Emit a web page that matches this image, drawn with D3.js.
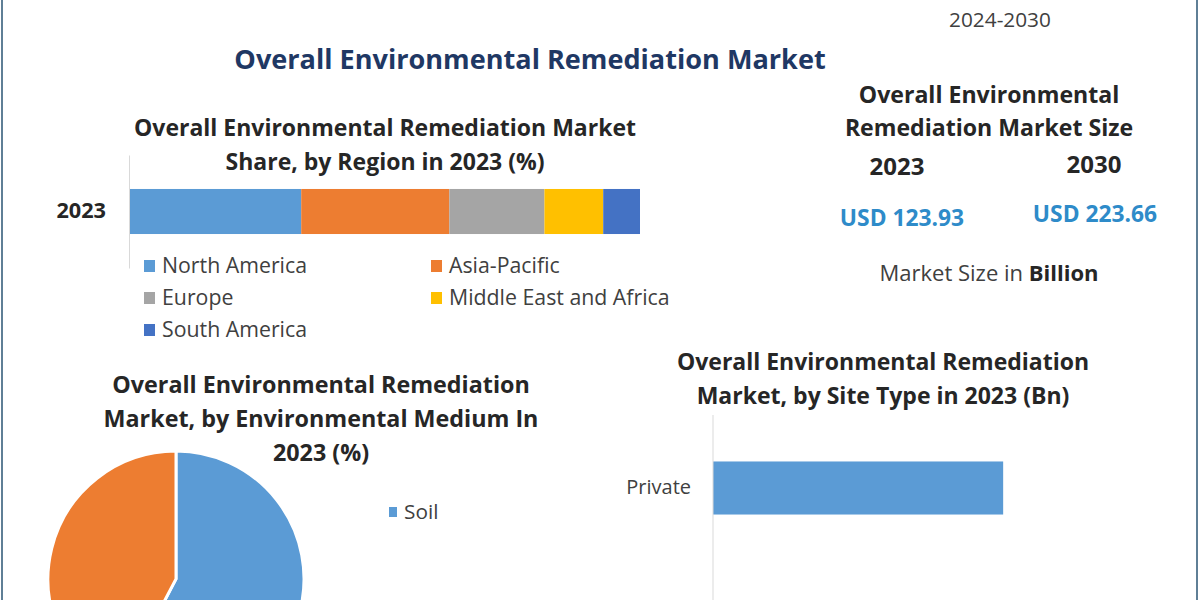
<!DOCTYPE html>
<html>
<head>
<meta charset="utf-8">
<script src="https://cdn.jsdelivr.net/npm/d3@7"></script>
<style>
  html, body { margin: 0; padding: 0; background: #fff; overflow: hidden; }
  text { font-family: "Open Sans", "Noto Sans", sans-serif; }
</style>
</head>
<body>
<div class="board"></div>
<script>
// region share bar
var regions = ["North America", "Asia-Pacific", "Europe", "Middle East and Africa", "South America"];
var regionShare = [33.7, 29, 18.6, 11.5, 7.2];
var regionYear = ["2023"];
var regionColors = ["#5b9bd5", "#ed7d31", "#a5a5a5", "#ffc000", "#4472c4"];

// pie
var mediums = ["Soil", "Other"];
var mediumShare = [57.7, 42.3];
var mediumColors = ["#5b9bd5", "#ed7d31"];

// site type bar
var siteTypes = ["Private"];
var siteValues = [72];

// size block
var sizeYears = ["2023", "2030"];
var sizeLabels = ["USD 123.93", "USD 223.66"];

var svg = d3.select(".board").append("svg")
  .attr("width", 1200)
  .attr("height", 600);

svg.append("rect").attr("width", 1200).attr("height", 600).attr("fill", "#fff");

// frame lines at both sides
svg.append("line").attr("x1", 2).attr("x2", 2).attr("y1", 0).attr("y2", 600)
  .attr("stroke", "#5f7f96").attr("stroke-width", 2);
svg.append("line").attr("x1", 1197).attr("x2", 1197).attr("y1", 0).attr("y2", 600)
  .attr("stroke", "#5f7f96").attr("stroke-width", 2);

function title(lines, x, y, lh, size, color, weight) {
  var t = svg.append("text")
    .attr("text-anchor", "middle")
    .attr("font-size", size)
    .attr("font-weight", weight || 700)
    .attr("fill", color || "#262626");
  lines.forEach(function(l, i) {
    t.append("tspan").attr("x", x).attr("y", y + i * lh).text(l);
  });
  return t;
}

// headers
title(["2024-2030"], 1000, 27, 0, 20.8, "#404040", 400);
title(["Overall Environmental Remediation Market"], 530, 69, 0, 27.1, "#1f3864");

// ---------- region share ----------
title(["Overall Environmental Remediation Market", "Share, by Region in 2023 (%)"], 385, 136, 34, 23);

var x1 = d3.scaleLinear().domain([0, 100]).range([129, 640]);
var y1 = d3.scaleBand().domain(regionYear).range([155, 268]).padding(0.43);

var stack = d3.stack().keys(regions)([regions.reduce(function(o, r, i) {
  o[r] = regionShare[i];
  return o;
}, {})]);

svg.append("g").selectAll("rect")
  .data(stack)
  .enter().append("rect")
  .attr("x", function(d) { return x1(d[0][0]); })
  .attr("width", function(d) { return x1(d[0][1]) - x1(d[0][0]); })
  .attr("y", y1("2023"))
  .attr("height", y1.bandwidth())
  .attr("fill", function(d, i) { return regionColors[i]; });

var axis1 = svg.append("g").attr("transform", "translate(129,0)")
  .call(d3.axisLeft(y1).tickSize(0).tickPadding(23));
axis1.select(".domain").attr("stroke", "#d9d9d9");
axis1.selectAll("text").attr("font-size", 21.7).attr("font-weight", 700).attr("fill", "#262626");

// legend, two columns
var legendX = [149, 436];
var legendY = [266, 298, 330];
var legend = svg.append("g").selectAll("g")
  .data(regions)
  .enter().append("g")
  .attr("transform", function(d, i) {
    return "translate(" + legendX[i % 2] + "," + legendY[Math.floor(i / 2)] + ")";
  });
legend.append("rect").attr("x", -5).attr("y", -6).attr("width", 11).attr("height", 12)
  .attr("fill", function(d, i) { return regionColors[i]; });
legend.append("text").attr("x", 13).attr("y", 7)
  .attr("font-size", 21.3).attr("fill", "#404040")
  .text(function(d) { return d; });

// ---------- market size ----------
title(["Overall Environmental", "Remediation Market Size"], 989, 103, 33, 23.1);
title([sizeYears[0]], 897, 175, 0, 24);
title([sizeYears[1]], 1094, 173, 0, 24);
title([sizeLabels[0]], 902, 226, 0, 22.8, "#2e8bc9");
title([sizeLabels[1]], 1095, 222, 0, 22.8, "#2e8bc9");
var ms = title(["Market Size in "], 989, 281, 0, 22, "#404040", 400);
ms.select("tspan").append("tspan").attr("font-weight", 700).attr("fill", "#262626").text("Billion");

// ---------- medium pie ----------
title(["Overall Environmental Remediation", "Market, by Environmental Medium In", "2023 (%)"], 321, 393, 34, 23.3);

var pie = d3.pie().sort(null)(mediumShare);
var arc = d3.arc().innerRadius(0).outerRadius(128);
svg.append("g").attr("transform", "translate(176,579)")
  .selectAll("path")
  .data(pie)
  .enter().append("path")
  .attr("d", arc)
  .attr("fill", function(d, i) { return mediumColors[i]; })
  .attr("stroke", "#fff")
  .attr("stroke-width", 3);

svg.append("rect").attr("x", 389).attr("y", 507).attr("width", 8).attr("height", 10).attr("fill", mediumColors[0]);
svg.append("text").attr("x", 404).attr("y", 519).attr("font-size", 20.8).attr("fill", "#404040").text(mediums[0]);

// ---------- site type bar ----------
title(["Overall Environmental Remediation", "Market, by Site Type in 2023 (Bn)"], 883, 370, 34, 23);

var x2 = d3.scaleLinear().domain([0, 100]).range([713, 1116]);
var y2 = d3.scaleBand().domain(siteTypes).range([415, 561]).padding(0.467);

svg.append("g").selectAll("rect")
  .data(siteValues)
  .enter().append("rect")
  .attr("x", x2(0))
  .attr("y", function(d, i) { return y2(siteTypes[i]); })
  .attr("width", function(d) { return x2(d) - x2(0); })
  .attr("height", y2.bandwidth())
  .attr("fill", "#5b9bd5");

var axis2 = svg.append("g").attr("transform", "translate(713,0)")
  .call(d3.axisLeft(y2).tickSize(0).tickPadding(22));
axis2.select(".domain").attr("stroke", "#d9d9d9").attr("d", "M0,415V600");
axis2.selectAll("text").attr("font-size", 20).attr("fill", "#404040");
</script>
</body>
</html>
